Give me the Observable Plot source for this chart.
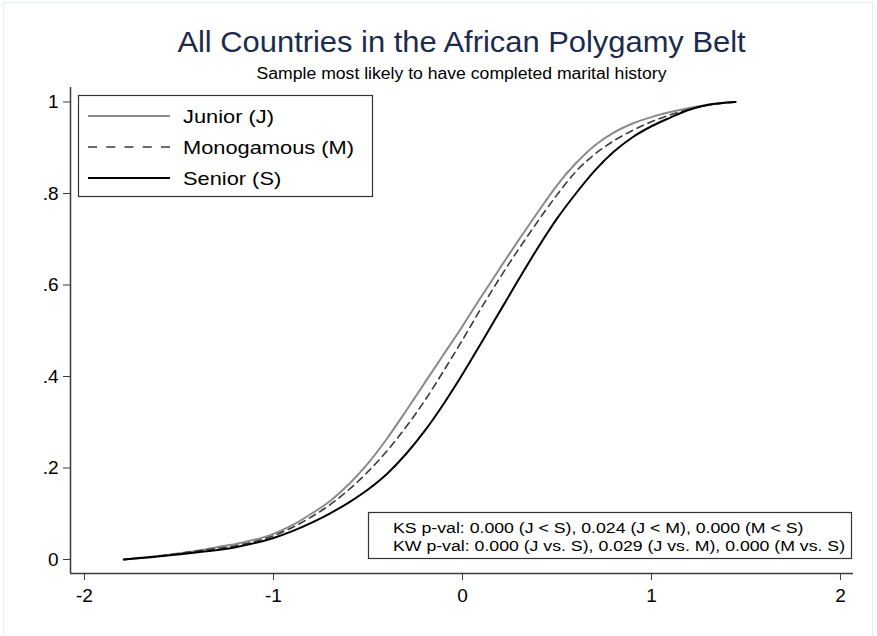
<!DOCTYPE html>
<html>
<head>
<meta charset="utf-8">
<script src="https://cdn.jsdelivr.net/npm/d3@7"></script>
<script src="https://cdn.jsdelivr.net/npm/@observablehq/plot@0.6"></script>
<style>
  body { margin: 0; background: #fff; font-family: "Liberation Sans", Arial, sans-serif; }
  #wrap { position: relative; width: 877px; height: 636px; overflow: hidden; background: #fff; }
  #edge { position: absolute; left: 3px; top: 2px; width: 870px; height: 640px; border: 1px solid #e6edf0; box-sizing: border-box; }
  #title { position: absolute; left: 70px; right: 24px; top: 28px; text-align: center; font-size: 29px; line-height: 29px; color: #1c2b4e; white-space: nowrap; transform: scaleX(1.065); transform-origin: 50% 50%; }
  #subtitle { position: absolute; left: 70px; right: 24px; top: 66px; text-align: center; font-size: 16px; line-height: 16px; color: #000; white-space: nowrap; transform: scaleX(1.1); transform-origin: 50% 50%; }
  #chart { position: absolute; left: 0; top: 0; }
  #overlay { position: absolute; left: 0; top: 0; pointer-events: none; }
</style>
</head>
<body>
<div id="wrap">
  <div id="edge"></div>
  <div id="chart"></div>
  <div id="title">All Countries in the African Polygamy Belt</div>
  <div id="subtitle">Sample most likely to have completed marital history</div>
  <svg id="overlay" width="877" height="636"></svg>
</div>
<script>
// Empirical cumulative distributions of the standardized measure, by wife type
const juniorX = [-1.792, -1.6, -1.4, -1.3, -1.2, -1.0, -0.9, -0.8, -0.7, -0.6, -0.5, -0.4, -0.3, -0.2, -0.1, 0, 0.1, 0.2, 0.3, 0.4, 0.5, 0.6, 0.7, 0.8, 0.9, 1.0, 1.1, 1.2, 1.3, 1.435];
const juniorY = [0, 0.008, 0.019, 0.027, 0.034, 0.056, 0.075, 0.100, 0.128, 0.165, 0.210, 0.264, 0.324, 0.386, 0.448, 0.510, 0.575, 0.638, 0.700, 0.760, 0.818, 0.866, 0.905, 0.933, 0.953, 0.967, 0.978, 0.987, 0.994, 1];

const monoX = [-1.792, -1.6, -1.4, -1.2, -1.0, -0.9, -0.8, -0.7, -0.6, -0.5, -0.4, -0.3, -0.2, -0.1, 0, 0.1, 0.2, 0.3, 0.4, 0.5, 0.6, 0.7, 0.8, 0.9, 1.0, 1.1, 1.2, 1.3, 1.445];
const monoY = [0, 0.008, 0.019, 0.030, 0.052, 0.070, 0.093, 0.120, 0.153, 0.192, 0.237, 0.289, 0.347, 0.412, 0.480, 0.550, 0.617, 0.680, 0.740, 0.797, 0.848, 0.886, 0.915, 0.938, 0.957, 0.972, 0.984, 0.993, 1];

const seniorX = [-1.792, -1.6, -1.4, -1.2, -1.0, -0.9, -0.8, -0.7, -0.6, -0.5, -0.4, -0.3, -0.2, -0.1, 0, 0.1, 0.2, 0.3, 0.4, 0.5, 0.6, 0.7, 0.8, 0.9, 1.0, 1.1, 1.2, 1.3, 1.445];
const seniorY = [0, 0.007, 0.016, 0.027, 0.047, 0.062, 0.080, 0.101, 0.125, 0.153, 0.187, 0.230, 0.281, 0.340, 0.405, 0.474, 0.544, 0.614, 0.682, 0.745, 0.800, 0.850, 0.891, 0.923, 0.947, 0.966, 0.983, 0.994, 1];

const seriesNames = ["Junior (J)", "Monogamous (M)", "Senior (S)"];
const xTicks = [-2, -1, 0, 1, 2];
const yTicks = [0, 0.2, 0.4, 0.6, 0.8, 1];
const yTickLabels = ["0", ".2", ".4", ".6", ".8", "1"];
const testLines = [
  "KS p-val: 0.000 (J < S), 0.024 (J < M), 0.000 (M < S)",
  "KW p-val: 0.000 (J vs. S), 0.029 (J vs. M), 0.000 (M vs. S)"
];

const toRows = (xs, ys) => xs.map((x, i) => ({x, y: ys[i]}));
const junior = toRows(juniorX, juniorY);
const mono = toRows(monoX, monoY);
const senior = toRows(seniorX, seniorY);

const styles = [
  {stroke: "#8a8a8a", strokeWidth: 2, dash: null, keyDash: null},
  {stroke: "#3a3a3a", strokeWidth: 1.6, dash: "7,5", keyDash: "9,9.25"},
  {stroke: "#000000", strokeWidth: 2, dash: null, keyDash: null}
];

const axisColor = "#3a3a3a";
const xDomain = [-2.074, 2.069];
const yDomain = [-0.0306, 1.0317];
const font = "Liberation Sans, Arial, sans-serif";

const chart = Plot.plot({
  width: 877,
  height: 636,
  marginTop: 87,
  marginBottom: 63,
  marginLeft: 70,
  marginRight: 24,
  style: {fontFamily: font, background: "transparent", color: "#000"},
  x: {domain: xDomain},
  y: {domain: yDomain},
  marks: [
    Plot.ruleX([xDomain[0]], {stroke: axisColor, strokeWidth: 1.5}),
    Plot.ruleY([yDomain[0]], {stroke: axisColor, strokeWidth: 1.5}),
    Plot.axisY({ticks: yTicks, tickSize: 7, tickPadding: 5, fontSize: 19, stroke: axisColor, tickFormat: (d, i) => yTickLabels[i], label: null}),
    Plot.axisX({ticks: xTicks, tickSize: 7, tickPadding: 8, fontSize: 19, stroke: axisColor, tickFormat: d => String(d), label: null}),
    Plot.line(junior, {x: "x", y: "y", curve: "monotone-x", stroke: styles[0].stroke, strokeWidth: styles[0].strokeWidth}),
    Plot.line(mono, {x: "x", y: "y", curve: "monotone-x", stroke: styles[1].stroke, strokeWidth: styles[1].strokeWidth, strokeDasharray: styles[1].dash}),
    Plot.line(senior, {x: "x", y: "y", curve: "monotone-x", stroke: styles[2].stroke, strokeWidth: styles[2].strokeWidth})
  ]
});
document.getElementById("chart").appendChild(chart);

// Legend box (top left) and test-statistics box (bottom right)
const svg = d3.select("#overlay");
const leg = svg.append("g");
leg.append("rect").attr("x", 78.5).attr("y", 95.5).attr("width", 294).attr("height", 101)
  .attr("fill", "#fff").attr("stroke", "#333").attr("stroke-width", 1.2);
seriesNames.forEach((name, i) => {
  const cy = 116 + i * 31;
  leg.append("line").attr("x1", 88).attr("x2", 170).attr("y1", cy).attr("y2", cy)
    .attr("stroke", styles[i].stroke).attr("stroke-width", styles[i].strokeWidth)
    .attr("stroke-dasharray", styles[i].keyDash);
  leg.append("text").attr("transform", `translate(183,${cy + 6.5}) scale(1.18,1)`)
    .attr("font-size", 18.5).attr("font-family", font).attr("fill", "#000").text(name);
});

const stats = svg.append("g");
stats.append("rect").attr("x", 368.5).attr("y", 512.5).attr("width", 483).attr("height", 46)
  .attr("fill", "#fff").attr("stroke", "#333").attr("stroke-width", 1.2);
testLines.forEach((t, i) => {
  stats.append("text").attr("transform", `translate(393,${532.5 + i * 18}) scale(1.18,1)`)
    .attr("font-size", 15).attr("font-family", font).attr("fill", "#000").text(t);
});
</script>
</body>
</html>
